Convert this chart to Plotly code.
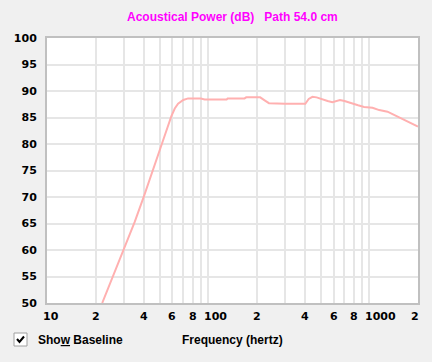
import numpy as np
import plotly.graph_objects as go

# ---- data ----
freq_hz = [22, 25, 30, 35, 40, 45, 50, 55, 59, 62, 65, 70, 75, 80, 90, 95,
           130, 132, 168, 172, 210, 225, 238, 300, 400, 420, 443, 470, 498, 550, 589,
           656, 700, 765, 850, 926, 1044, 1150, 1294, 1400, 1564, 1800, 2000]
power_db = [50, 54.3, 60.2, 65.3, 70.2, 74.6, 78.6, 82.5, 85.2, 86.7, 87.6, 88.3, 88.6, 88.6, 88.6, 88.4,
            88.4, 88.6, 88.6, 88.8, 88.8, 88.2, 87.7, 87.6, 87.6, 88.5, 88.9, 88.8, 88.5, 88.1, 87.9,
            88.3, 88.1, 87.7, 87.3, 87.0, 86.85, 86.4, 86.1, 85.6, 84.85, 84.0, 83.3]

x_grid_vals = [20, 30, 40, 50, 60, 70, 80, 90, 100, 200, 300, 400, 500, 600, 700, 800, 900, 1000]
x_label_vals = [10, 20, 40, 60, 80, 100, 200, 400, 600, 800, 1000, 2000]
x_label_text = ["10", "2", "4", "6", "8", "100", "2", "4", "6", "8", "1000", "2"]
y_ticks = [50, 55, 60, 65, 70, 75, 80, 85, 90, 95, 100]

title_text = "Acoustical Power (dB)   Path 54.0 cm"
x_title = "Frequency (hertz)"

W, H = 432, 362
ML, MR, MT, MB = 47, 14, 38, 59
PW, PH = W - ML - MR, H - MT - MB


def px(x):
    return (x - ML) / PW


def py(y):
    return (H - MB - y) / PH


fig = go.Figure()
fig.add_trace(go.Scatter(x=freq_hz, y=power_db, mode="lines",
                         line=dict(color="#FFB0B0", width=2), hoverinfo="skip",
                         showlegend=False))

tick_font = dict(family="DejaVu Sans", size=11, color="black", weight="bold")
text_font = dict(family="Liberation Sans", size=12, color="black", weight="bold")

fig.update_layout(
    width=W, height=H,
    margin=dict(l=ML, r=MR, t=MT, b=MB),
    paper_bgcolor="#F0F0F0", plot_bgcolor="white",
    showlegend=False,
    xaxis=dict(type="log", range=[1, np.log10(2000)], tickvals=x_grid_vals,
               showticklabels=False, ticks="", showgrid=True, gridcolor="#E6E6E6",
               gridwidth=2, showline=True, linecolor="#C0C0C0", linewidth=2,
               mirror=True, zeroline=False, fixedrange=True),
    yaxis=dict(range=[50, 100], tickvals=y_ticks, ticks="", tickfont=tick_font,
               ticklabelstandoff=6, showgrid=True, gridcolor="#E6E6E6", gridwidth=2,
               showline=True, linecolor="#C0C0C0", linewidth=2, mirror=True,
               zeroline=False, fixedrange=True),
)

annotations = []
n = len(x_label_vals)
for i, (v, t) in enumerate(zip(x_label_vals, x_label_text)):
    if i == n - 1:
        anchor, shift = "right", 3
    elif len(t) > 1:
        anchor, shift = "left", -6
    else:
        anchor, shift = "center", 0
    annotations.append(dict(x=np.log10(v), xref="x", y=0, yref="paper",
                            text=t, showarrow=False, xanchor=anchor, yanchor="middle",
                            xshift=shift, yshift=-13, font=tick_font))

annotations.append(dict(x=0.5, xref="paper", y=1, yref="paper", text=title_text,
                        showarrow=False, xanchor="center", yanchor="middle", yshift=21,
                        font=dict(family="Liberation Sans", size=12, color="#FF00FF",
                                  weight="bold")))
annotations.append(dict(x=0.5, xref="paper", y=0, yref="paper", text=x_title,
                        showarrow=False, xanchor="center", yanchor="middle", yshift=-37,
                        font=text_font))
annotations.append(dict(x=0, xref="paper", y=0, yref="paper",
                        text="Sho<u>w</u> Baseline",
                        showarrow=False, xanchor="left", yanchor="middle",
                        xshift=-11, yshift=-37, font=text_font))
fig.update_layout(annotations=annotations)

# checkbox
fig.add_shape(type="rect", xref="paper", yref="paper",
              x0=px(14), x1=px(27), y0=py(346), y1=py(333),
              fillcolor="white", line=dict(color="#A0A0A0", width=1), layer="above")
check_path = "M {:.5f},{:.5f} L {:.5f},{:.5f} L {:.5f},{:.5f}".format(
    px(17), py(339), px(19.5), py(342), px(24), py(336.5))
fig.add_shape(type="path", xref="paper", yref="paper", path=check_path,
              line=dict(color="black", width=2), layer="above")

fig.write_html("out.html", config={"displayModeBar": False},
               post_script="document.body.style.margin='0';document.body.style.background='#F0F0F0';")
